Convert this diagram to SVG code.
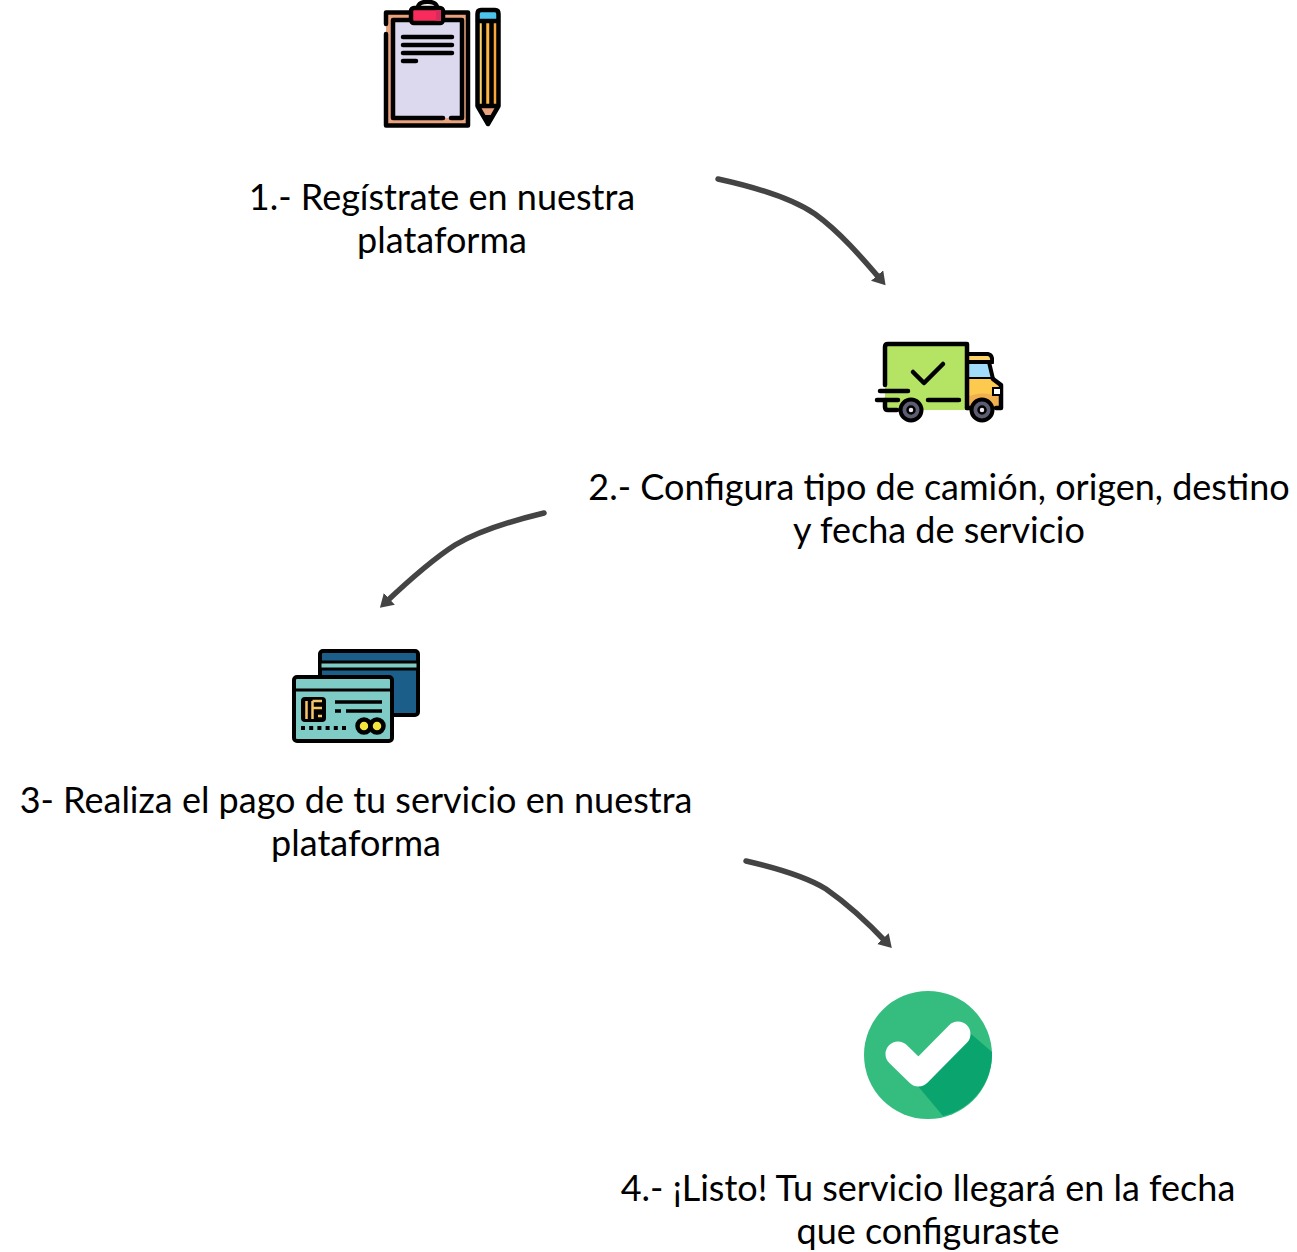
<svg xmlns="http://www.w3.org/2000/svg" width="1297" height="1252" viewBox="0 0 1297 1252">
<style>
text{font-family:Lato,"Noto Sans",sans-serif;font-size:36px;fill:#000;text-anchor:middle}
.k{stroke:#000;stroke-width:4.500;stroke-linecap:round;stroke-linejoin:round;fill:none}
.c{fill:none;stroke:#444;stroke-width:5.500;stroke-linecap:round}
</style>
<defs><marker id="a" markerUnits="userSpaceOnUse" markerWidth="20" markerHeight="20" refX="6" refY="8" orient="auto"><path d="M0 0L13 8L0 16Z" fill="#444"/></marker></defs>
<rect width="1297" height="1252" fill="#fff"/>
<g id="connectors">
<path class="c" marker-end="url(#a)" d="M718 179C750 186 790 197 815 214C840 232 863 259 881 280"/>
<path class="c" marker-end="url(#a)" d="M544 513C515 520 480 530 455 545C430 561 404 585 385 603"/>
<path class="c" marker-end="url(#a)" d="M746 861C772 867 805 876 826 889C849 905 871 926 887 943"/>
</g>
<g id="node1">
<rect x="386" y="12" width="82" height="114" fill="#e9a27c"/>
<rect x="393" y="20" width="69" height="98" fill="#dcd8ee"/>
<path class="k" d="M386 24V12.500H409M445 12.500H468V125.500H386V34"/>
<path class="k" d="M409 20H393V118H443M451 118H462V20H445"/>
<path class="k" stroke-width="3.500" d="M418 7C419 0 436 0 437 7"/>
<rect x="411" y="8" width="32" height="15" rx="3" fill="#f82c5c" stroke="#000" stroke-width="4.500"/>
<rect x="436" y="10" width="5" height="11" fill="#d92a5c"/>
<path class="k" stroke-width="3.500" d="M403 37H452M403 45H452M403 53H452M403 61H416"/>
<path d="M478 12H498V106L488 124L478 106Z" fill="#fdd369"/>
<rect x="484" y="21" width="7" height="85" fill="#fbb540"/>
<rect x="491" y="21" width="7" height="85" fill="#fba53c"/>
<rect x="478" y="12" width="20" height="9" fill="#4cc3ea"/>
<path d="M478 106H498L488 124Z" fill="#e9a27c"/>
<path class="k" d="M477.500 106V14Q477.500 10 481 10H495Q498.500 10 498.500 14V106L488 124L477.500 106H498.500"/>
<path class="k" stroke-width="3" d="M478 21H498"/>
<path class="k" stroke-width="2.500" d="M484 22V105M491.500 22V105"/>
<path d="M483.500 115H492.500L488 124Z" fill="#000"/>
</g>
<text x="442" y="210">1.- Regístrate en nuestra</text>
<text x="442" y="253">plataforma</text>
<g id="node2">
<path d="M967 354H988Q993 355 992 362H967Z" fill="#fdd369" stroke="#000" stroke-width="4"/>
<path d="M967 362H989L993 379H967Z" fill="#a3dcfa" stroke="#000" stroke-width="4"/>
<path d="M967 379H993L1001 385V408H967Z" fill="#fdc94f"/>
<path d="M967 397Q982 390 1000 397V408H967Z" fill="#f0b050"/>
<rect x="885" y="344" width="82" height="66" rx="3" fill="#b5e363"/>
<path class="k" d="M885 385V347Q885 344 888 344H967V408M885 400V407Q885 410 888 410H897"/>
<path class="k" d="M993 379L1001 385V408H996M967 408H970M928 400H959"/>
<path class="k" d="M877 400H898M880 391H908"/>
<path class="k" stroke-width="5" d="M913 372L924 383L943 364"/>
<rect x="993" y="388" width="8" height="7" fill="#fff" stroke="#000" stroke-width="2"/>
<circle cx="911" cy="410" r="10.500" fill="#5d5d72" stroke="#000" stroke-width="4"/>
<circle cx="911" cy="410" r="3.500" fill="#e8e8ee" stroke="#000" stroke-width="2.500"/>
<circle cx="982" cy="410" r="10.500" fill="#5d5d72" stroke="#000" stroke-width="4"/>
<circle cx="982" cy="410" r="3.500" fill="#e8e8ee" stroke="#000" stroke-width="2.500"/>
</g>
<text x="939" y="500">2.- Configura tipo de camión, origen, destino</text>
<text x="939" y="543">y fecha de servicio</text>
<g id="node3">
<rect x="320" y="651" width="98" height="64" rx="3" fill="#1b5e8a" stroke="#000" stroke-width="4"/>
<rect x="320" y="662" width="98" height="7" fill="#7fcbc6" stroke="#000" stroke-width="3"/>
<rect x="294" y="677" width="98" height="64" rx="3" fill="#7fcbc6" stroke="#000" stroke-width="4"/>
<path d="M294 690H392" stroke="#000" stroke-width="3"/>
<rect x="301" y="697" width="25" height="25" rx="4" fill="#000"/>
<path d="M306.500 701V719M312.500 701V719M312.500 701H322M312.500 708H322M318 716H322" stroke="#f5c56a" stroke-width="2.500" fill="none"/>
<path d="M335 702H382M335 711H341M346 711H382" stroke="#000" stroke-width="3.500"/>
<path d="M301 728H348" stroke="#000" stroke-width="4" stroke-dasharray="4 4.200"/>
<circle cx="364" cy="726" r="6.500" fill="#f3e63d" stroke="#000" stroke-width="4.500"/>
<circle cx="377" cy="726" r="6.500" fill="#f3e63d" stroke="#000" stroke-width="4.500"/>
</g>
<text x="356" y="813">3- Realiza el pago de tu servicio en nuestra</text>
<text x="356" y="856">plataforma</text>
<g id="node4">
<circle cx="928" cy="1055" r="64" fill="#35bd7f"/>
<path d="M917 1085L943 1116A64 64 0 0 0 992 1052L970 1033Z" fill="#0aa56f"/>
<path d="M898 1054L918.500 1074L958 1034" fill="none" stroke="#fff" stroke-width="25" stroke-linecap="round" stroke-linejoin="round"/>
</g>
<text x="928" y="1201">4.- ¡Listo! Tu servicio llegará en la fecha</text>
<text x="928" y="1244">que configuraste</text>
</svg>
